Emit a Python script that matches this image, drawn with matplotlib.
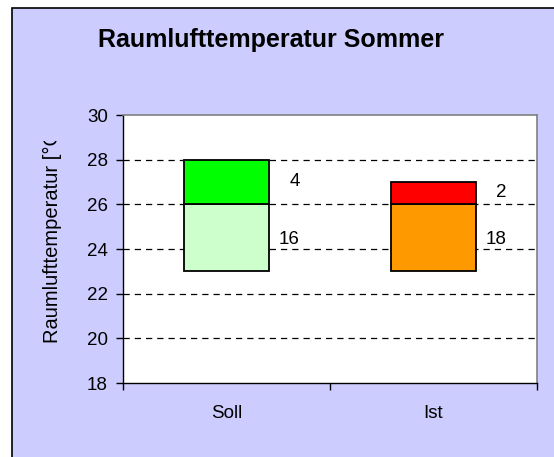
import matplotlib
matplotlib.use("Agg")
import matplotlib.pyplot as plt
from matplotlib.patches import Rectangle
from matplotlib.transforms import Bbox, TransformedBbox

plt.rcParams['font.family'] = ['Liberation Sans', 'DejaVu Sans']

# data
categories = ["Soll", "Ist"]
base = [23, 23]
lower = [3, 3]
upper = [2, 1]
lower_labels = ["16", "18"]
upper_labels = ["4", "2"]
lower_colors = ["#CCFFCC", "#FF9900"]
upper_colors = ["#00FF00", "#FF0000"]

W, H = 554, 457
fig = plt.figure(figsize=(W / 100, H / 100), dpi=100)
fig.patch.set_facecolor("white")

# lavender chart area with black frame (runs past right/bottom edges)
fig.patches.append(Rectangle((12 / W, -0.05), 1.1, 1 - 8 / H + 0.05,
                             transform=fig.transFigure, facecolor="#CCCCFF",
                             edgecolor="black", linewidth=1.2, zorder=-10))

ax = fig.add_axes([123 / W, 1 - 383 / H, (537 - 123) / W, (383 - 115) / H])
ax.set_facecolor("white")

x = list(range(len(categories)))
bw = 0.41
ax.bar(x, lower, bottom=base, width=bw, color=lower_colors,
       edgecolor="black", linewidth=1.3, zorder=3)
mid = [b + l for b, l in zip(base, lower)]
ax.bar(x, upper, bottom=mid, width=bw, color=upper_colors,
       edgecolor="black", linewidth=1.3, zorder=3)

fs = 13.5
for i in x:
    ax.text(i + 0.355, base[i] + lower[i] / 2, lower_labels[i],
            ha="right", va="center_baseline", fontsize=fs, zorder=4)
    ax.text(i + 0.355, mid[i] + upper[i] / 2 + 0.1, upper_labels[i],
            ha="right", va="center_baseline", fontsize=fs, zorder=4)

ax.set_xlim(-0.5, 1.5)
ax.set_ylim(18, 30)
ax.set_yticks(range(18, 31, 2))
ax.set_xticks(x)
ax.set_xticklabels(categories)
ax.set_xticks([-0.5, 0.5, 1.5], minor=True)
ax.tick_params(axis="x", which="major", length=0, pad=16, labelsize=fs)
ax.tick_params(axis="x", which="minor", length=5, width=1, direction="out")
ax.tick_params(axis="y", length=5, width=1, direction="out", pad=6,
               labelsize=fs)

for g in range(20, 29, 2):
    ax.axhline(g, color="black", linestyle=(0, (5, 4)), linewidth=0.9,
               zorder=1)

for s in ["top", "right"]:
    ax.spines[s].set_color("#808080")
    ax.spines[s].set_linewidth(1.2)
for s in ["left", "bottom"]:
    ax.spines[s].set_color("black")
    ax.spines[s].set_linewidth(1.0)

fig.text(271 / W, 1 - 40 / H, "Raumlufttemperatur Sommer",
         ha="center", va="center", fontsize=18, fontweight="bold")

yl = fig.text(52 / W, 1 - 343 / H, "Raumlufttemperatur [°C]", rotation=90,
              ha="center", va="bottom", fontsize=14.5)
yl.set_clip_box(TransformedBbox(Bbox([[0, 0], [1, 1 - 141 / H]]),
                                fig.transFigure))
yl.set_clip_on(True)

fig.savefig("out.png", dpi=100, facecolor=fig.get_facecolor())
